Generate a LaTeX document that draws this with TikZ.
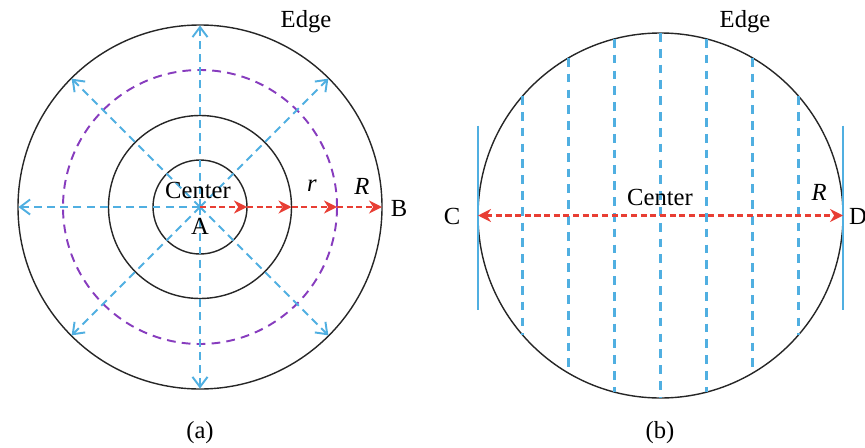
\documentclass[tikz,border=0pt]{standalone}
\usepackage{fontspec}
\setmainfont{Liberation Serif}
\usetikzlibrary{arrows.meta}
\definecolor{skyblue}{RGB}{80,175,225}
\definecolor{arrowred}{RGB}{232,62,52}
\definecolor{ringpurple}{RGB}{135,60,190}

\begin{document}
\begin{tikzpicture}[
  ring/.style={draw=black!85,line width=0.8pt},
  bluearr/.style={skyblue,line width=1.1pt,dash pattern=on 4.5pt off 3pt,-{Straight Barb[length=2mm,width=3mm]}},
  redarr/.style={arrowred,line width=1.6pt,dash pattern=on 3.5pt off 2pt,-{Stealth[length=2.6mm,width=2.6mm]}},
  lbl/.style={font=\fontsize{14}{16}\selectfont,inner sep=1pt}]
\useasboundingbox (0,0) rectangle (17.3,8.94);
\coordinate (A0) at (4.0,4.8);
\coordinate (C0) at (13.21,4.63);
\draw[ring] (A0) circle (0.94);
\draw[ring] (A0) circle (1.83);
\draw[ringpurple,line width=1.1pt,dash pattern=on 5pt off 3.5pt] (A0) circle (2.74);
\draw[ring] (A0) circle (3.64);
\foreach \a in {45,90,...,315} {
  \coordinate (e\a) at ([shift={(\a:3.63)}]A0);
  \draw[bluearr] (A0) -- (e\a);
}
\coordinate (r1) at ([shift={(0.94,0)}]A0);
\coordinate (r2) at ([shift={(1.83,0)}]A0);
\coordinate (r3) at ([shift={(2.74,0)}]A0);
\coordinate (r4) at ([shift={(3.64,0)}]A0);
\draw[redarr] (A0) -- (r1);
\draw[redarr] (r1) -- (r2);
\draw[redarr] (r2) -- (r3);
\draw[redarr] (r3) -- (r4);
\node (cenA) at (3.96,5.14) [lbl] {Center};
\node (ptA) at (4.0,4.42) [lbl] {A};
\node (smallr) at (6.24,5.22) [lbl] {\textit{r}};
\node (bigRa) at (7.24,5.22) [lbl] {\textit{R}};
\node (ptB) at (7.98,4.78) [lbl] {B};
\node (edgeA) at (6.12,8.5) [lbl] {Edge};
\node (capA) at (4.0,0.28) [lbl] {(a)};
\draw[ring] (C0) circle (3.65);
\foreach \k in {-3,...,3} {
  \pgfmathsetmacro\h{sqrt(3.65^2-(0.92*\k)^2)}
  \coordinate (t\k) at ([shift={(0.92*\k,\h)}]C0);
  \coordinate (b\k) at ([shift={(0.92*\k,-\h)}]C0);
  \draw[skyblue,line width=1.2pt,dash pattern=on 5pt off 4pt] (t\k) -- (b\k);
}
\coordinate (ptC) at ([shift={(-3.65,0)}]C0);
\coordinate (ptD) at ([shift={(3.65,0)}]C0);
\draw[skyblue,line width=1.1pt] ([yshift=1.8cm]ptC) -- ([yshift=-1.88cm]ptC);
\draw[skyblue,line width=1.1pt] ([yshift=1.8cm]ptD) -- ([yshift=-1.88cm]ptD);
\draw[redarr,{Stealth[length=2.6mm,width=2.6mm]}-{Stealth[length=2.6mm,width=2.6mm]}] (ptC) -- (ptD);
\node (cenB) at (13.2,5.0) [lbl] {Center};
\node (bigRb) at (16.38,5.1) [lbl] {\textit{R}};
\node (labC) at (9.04,4.62) [lbl] {C};
\node (labD) at (17.16,4.62) [lbl] {D};
\node (edgeB) at (14.9,8.5) [lbl] {Edge};
\node (capB) at (13.2,0.28) [lbl] {(b)};
\end{tikzpicture}
\end{document}
